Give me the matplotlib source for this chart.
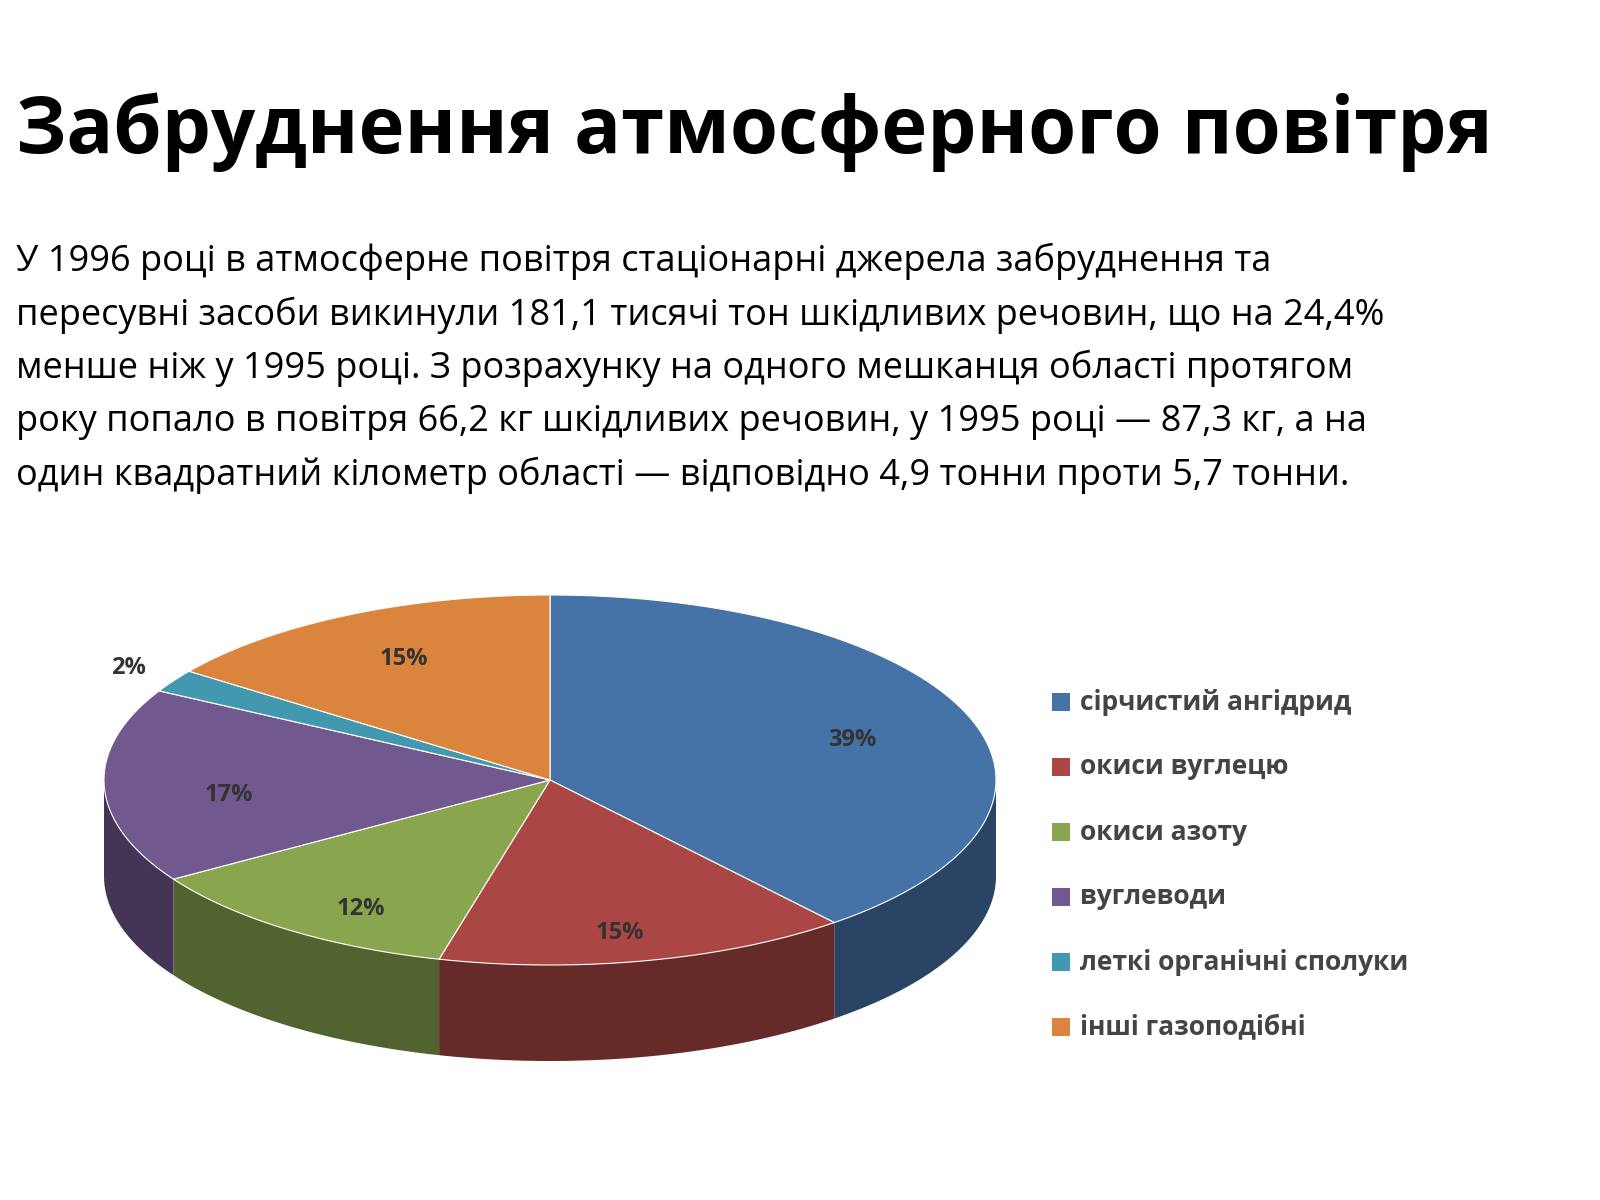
import numpy as np
import matplotlib.pyplot as plt
from matplotlib.patches import Polygon
from matplotlib.colors import to_rgb

title = 'Забруднення атмосферного повітря'
paragraph = [
    'У 1996 році в атмосферне повітря стаціонарні джерела забруднення та',
    'пересувні засоби викинули 181,1 тисячі тон шкідливих речовин, що на 24,4%',
    'менше ніж у 1995 році. З розрахунку на одного мешканця області протягом',
    'року попало в повітря 66,2 кг шкідливих речовин, у 1995 році — 87,3 кг, а на',
    'один квадратний кілометр області — відповідно 4,9 тонни проти 5,7 тонни.',
]
categories = ['сірчистий ангідрид', 'окиси вуглецю', 'окиси азоту',
              'вуглеводи', 'леткі органічні сполуки', 'інші газоподібні']
values = [39, 15, 12, 17, 2, 15]
colors = ['#4572A7', '#AA4643', '#89A54E', '#71588F', '#4198AF', '#DB843D']

fig = plt.figure(figsize=(16, 12), dpi=100)
ax = fig.add_axes([0, 0, 1, 1])
ax.set_xlim(0, 1600)
ax.set_ylim(1200, 0)
ax.axis('off')

fig.text(0.01, 0.89, title, fontsize=56, fontweight='bold', family='Open Sans', va='center')
for i, line in enumerate(paragraph):
    fig.text(0.01, 0.782 - i * 0.0445, line, fontsize=26, family='Open Sans', va='center')

cx, cy, rx, ry, depth = 550, 780, 446, 185, 96


def darker(c, f):
    return tuple(v * f for v in to_rgb(c))


total = sum(values)
bounds = 90 - 360 * np.concatenate([[0], np.cumsum(values)]) / total

# side walls (front half only)
for k in range(len(values)):
    t = np.linspace(bounds[k], bounds[k + 1], 200)
    t = t[np.sin(np.radians(t)) <= 0]
    if len(t) < 2:
        continue
    r = np.radians(t)
    x = cx + rx * np.cos(r)
    y = cy - ry * np.sin(r)
    pts = np.vstack([np.column_stack([x, y]), np.column_stack([x[::-1], y[::-1] + depth])])
    ax.add_patch(Polygon(pts, closed=True, fc=darker(colors[k], 0.6), ec='none'))

# top faces
for k in range(len(values)):
    r = np.radians(np.linspace(bounds[k], bounds[k + 1], 200))
    pts = np.column_stack([cx + rx * np.cos(r), cy - ry * np.sin(r)])
    pts = np.vstack([[cx, cy], pts])
    ax.add_patch(Polygon(pts, closed=True, fc=colors[k], ec='white', lw=0.8))
    mid = np.radians((bounds[k] + bounds[k + 1]) / 2)
    f = 1.12 if values[k] < 5 else 0.72
    ax.text(cx + f * rx * np.cos(mid), cy - f * ry * np.sin(mid) * 1.1 + 10,
            f'{values[k]}%', fontsize=17, fontweight='bold', color='#333333',
            ha='center', va='center', family='Open Sans')

for i, (lab, c) in enumerate(zip(categories, colors)):
    y = 702 + i * 65
    ax.add_patch(Polygon([[1052, y - 9], [1070, y - 9], [1070, y + 9], [1052, y + 9]], fc=c, ec='none'))
    ax.text(1080, y, lab, fontsize=19, fontweight='bold', color='#444444', va='center', family='Open Sans')

fig.savefig('out.png')
